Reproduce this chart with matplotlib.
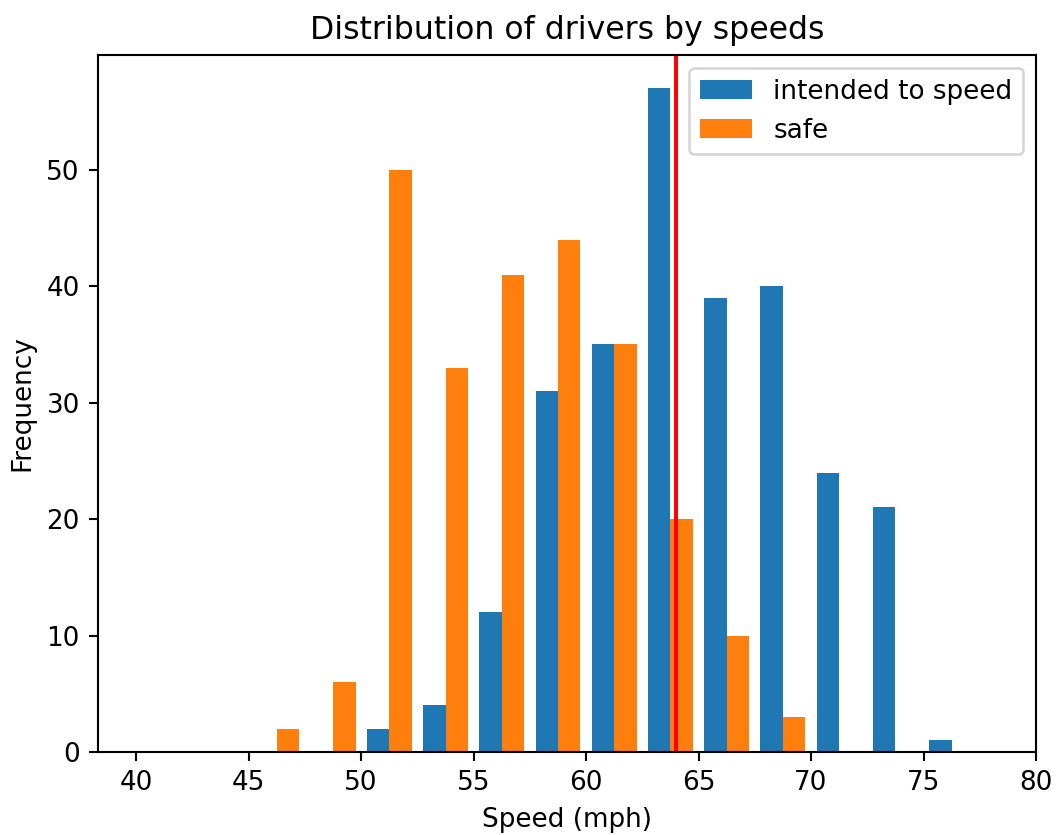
import numpy as np
import matplotlib
matplotlib.use('Agg')
import matplotlib.pyplot as plt

# bin edges (mph) and counts
bin_edges = np.arange(45, 77.6, 2.5)
speed_counts = [0, 0, 2, 4, 12, 31, 35, 57, 39, 40, 24, 21, 1]
safe_counts = [2, 6, 50, 33, 41, 44, 35, 20, 10, 3, 0, 0, 0]
speed_limit = 64

centers = (bin_edges[:-1] + bin_edges[1:]) / 2

fig = plt.figure(figsize=(1057 / 189, 835 / 189), dpi=189)
ax = fig.add_axes([98 / 1057, 1 - 752 / 835, (1036 - 98) / 1057, (752 - 55) / 835])
ax.hist([centers, centers], bins=bin_edges, weights=[speed_counts, safe_counts],
        label=['intended to speed', 'safe'])
ax.axvline(speed_limit, color='red')
ax.set_xlim(38.3, 80)
ax.set_title('Distribution of drivers by speeds')
ax.set_xlabel('Speed (mph)')
ax.set_ylabel('Frequency')
ax.legend(loc='upper right')
fig.savefig('out.png', dpi=189)
